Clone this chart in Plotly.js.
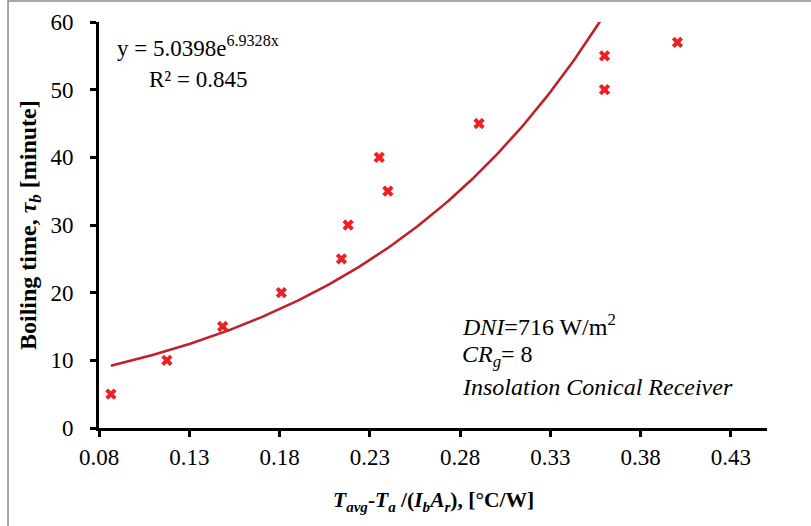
<!DOCTYPE html>
<html>
<head>
<meta charset="utf-8">
<script src="https://cdn.plot.ly/plotly-3.0.1.min.js"></script>
<style>html,body{margin:0;padding:0;background:#fff;}#chart{width:811px;height:526px;}</style>
</head>
<body>
<div id="chart"></div>
<script>
// Measured points (x: [°C/W], y: boiling time [minute])
const xData = [0.0866, 0.1176, 0.1485, 0.181, 0.2143, 0.218, 0.2352, 0.240, 0.2905, 0.360, 0.360, 0.4004];
const yData = [5, 10, 15, 20, 25, 30, 40, 35, 45, 55, 50, 57];
// Exponential trendline coefficients shown on the chart: y = a * exp(b x)
const fitA = 5.0398;
const fitB = 6.9328;
const xTickVals = [0.08, 0.13, 0.18, 0.23, 0.28, 0.33, 0.38, 0.43];
const yTickVals = [0, 10, 20, 30, 40, 50, 60];

const xMin = Math.min(...xData), xMax = Math.max(...xData);
const fitX = [], fitY = [];
for (let i = 0; i <= 200; i++) {
  const x = xMin + (xMax - xMin) * i / 200;
  fitX.push(x);
  fitY.push(fitA * Math.exp(fitB * x));
}

const FONT = "'Liberation Serif', 'Times New Roman', serif";

const traces = [
  {x: fitX, y: fitY, type: 'scatter', mode: 'lines',
   line: {color: '#c0202a', width: 2.6}, hoverinfo: 'skip', showlegend: false},
  {x: xData, y: yData, type: 'scatter', mode: 'markers',
   marker: {symbol: 'x', size: 10, color: '#ee2024', line: {width: 0}}, showlegend: false}
];

const layout = {
  width: 811, height: 526,
  margin: {l: 99, r: 44, t: 22, b: 98},
  paper_bgcolor: '#fff', plot_bgcolor: '#fff',
  showlegend: false,
  font: {family: FONT, size: 22, color: '#000'},
  xaxis: {
    showgrid: false, zeroline: false, showline: true, linecolor: '#000', linewidth: 3,
    ticks: 'outside', ticklen: 6, tickwidth: 3, tickcolor: '#000',
    tickfont: {family: FONT, size: 23, color: '#000'},
    range: [0.08, 0.45], tickmode: 'array', tickvals: xTickVals,
    ticktext: xTickVals.map(v => v.toFixed(2)), ticklabelstandoff: 0
  },
  yaxis: {
    showgrid: false, zeroline: false, showline: true, linecolor: '#000', linewidth: 3,
    ticks: 'outside', ticklen: 6, tickwidth: 3, tickcolor: '#000',
    tickfont: {family: FONT, size: 23, color: '#000'},
    range: [0, 60], tickmode: 'array', tickvals: yTickVals,
    ticktext: yTickVals.map(String), ticklabelstandoff: 12
  },
  shapes: [
    {type: 'rect', xref: 'paper', yref: 'paper', x0: -0.1362, x1: 1.08, y0: -0.26, y1: 1.0515,
     line: {color: '#8c8c8c', width: 1.5}, fillcolor: 'rgba(0,0,0,0)', layer: 'below'}
  ],
  annotations: [
    {xref: 'paper', yref: 'paper', x: -0.1033, y: 0.5, xanchor: 'center', yanchor: 'middle',
     textangle: -90, showarrow: false,
     text: '<b>Boiling time, <i>τ<sub>b</sub></i> [minute]</b>',
     font: {family: FONT, size: 24, color: '#000'}},
    {xref: 'paper', yref: 'paper', x: 0.5, y: -0.182, xanchor: 'center', yanchor: 'middle',
     showarrow: false,
     text: '<b><i>T<sub>avg</sub></i>-<i>T<sub>a</sub></i> /(<i>I<sub>b</sub>A<sub>r</sub></i>), [°C/W]</b>',
     font: {family: FONT, size: 21.5, color: '#000'}},
    {xref: 'paper', yref: 'paper', x: (198 - 99) / 668, y: (428 - 47) / 406, xanchor: 'center', yanchor: 'middle',
     showarrow: false, text: 'y = 5.0398e<sup>6.9328x</sup>',
     font: {family: FONT, size: 23, color: '#000'}},
    {xref: 'paper', yref: 'paper', x: (198 - 99) / 668, y: (428 - 79) / 406, xanchor: 'center', yanchor: 'middle',
     showarrow: false, text: 'R² = 0.845',
     font: {family: FONT, size: 23, color: '#000'}},
    {xref: 'paper', yref: 'paper', x: (460 - 99) / 668, y: (428 - 325) / 406, xanchor: 'left', yanchor: 'middle',
     showarrow: false, text: '<i>DNI</i>=716 W/m<sup>2</sup>',
     font: {family: FONT, size: 24, color: '#000'}},
    {xref: 'paper', yref: 'paper', x: (460 - 99) / 668, y: (428 - 356) / 406, xanchor: 'left', yanchor: 'middle',
     showarrow: false, text: '<i>CR<sub>g</sub></i>= 8',
     font: {family: FONT, size: 24, color: '#000'}},
    {xref: 'paper', yref: 'paper', x: (460 - 99) / 668, y: (428 - 387) / 406, xanchor: 'left', yanchor: 'middle',
     showarrow: false, text: '<i>Insolation Conical Receiver</i>',
     font: {family: FONT, size: 24, color: '#000'}}
  ]
};

Plotly.newPlot('chart', traces, layout, {staticPlot: true, displayModeBar: false});
</script>
</body>
</html>
